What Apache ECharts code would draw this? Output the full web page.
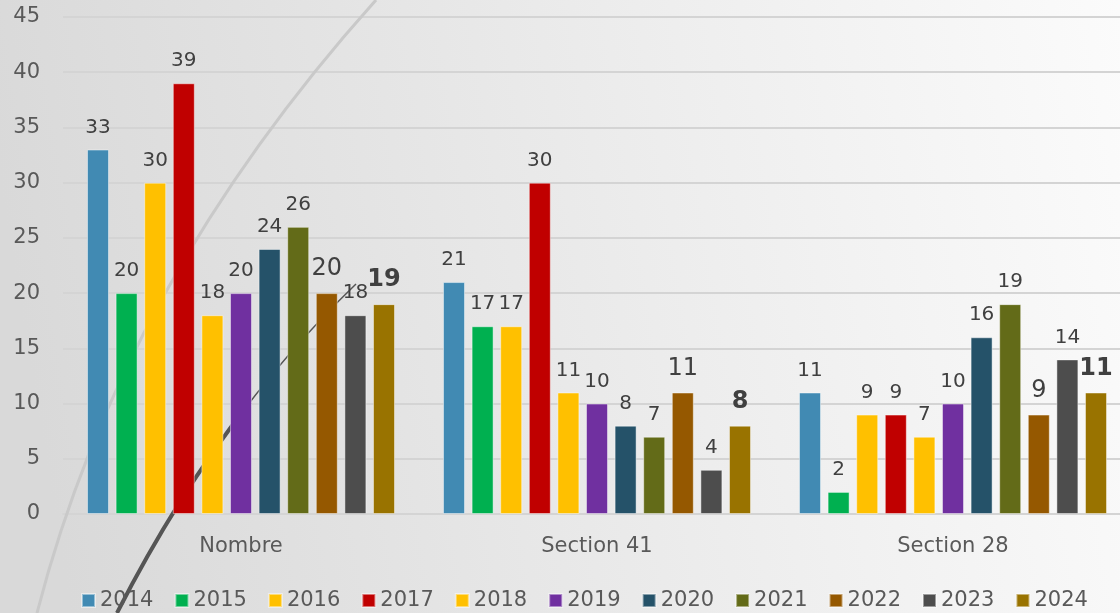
<!DOCTYPE html>
<html>
<head>
<meta charset="utf-8">
<script src="https://cdn.jsdelivr.net/npm/echarts@6/dist/echarts.min.js"></script>
<style>
  html, body { margin: 0; padding: 0; }
  #chart { width: 1120px; height: 613px; }
</style>
</head>
<body>
<div id="chart"></div>
<script>
// données
const categories = ['Nombre', 'Section 41', 'Section 28'];
const years = ['2014', '2015', '2016', '2017', '2018', '2019', '2020', '2021', '2022', '2023', '2024'];
const v2014 = [33, 21, 11];
const v2015 = [20, 17, 2];
const v2016 = [30, 17, 9];
const v2017 = [39, 30, 9];
const v2018 = [18, 11, 7];
const v2019 = [20, 10, 10];
const v2020 = [24, 8, 16];
const v2021 = [26, 7, 19];
const v2022 = [20, 11, 9];
const v2023 = [18, 4, 14];
const v2024 = [19, 8, 11];
const yTicks = [0, 5, 10, 15, 20, 25, 30, 35, 40, 45];

const values = [v2014, v2015, v2016, v2017, v2018, v2019, v2020, v2021, v2022, v2023, v2024];
const colors = ['#418AB3', '#00B050', '#FFC000', '#C00000', '#FFC000', '#7030A0',
  '#255269', '#636B18', '#955800', '#4D4D4D', '#997300'];

const font = 'DejaVu Sans';
const chart = echarts.init(document.getElementById('chart'));

const series = years.map((y, i) => {
  const label = {
    show: true,
    position: 'top',
    distance: 12,
    color: '#404040',
    fontFamily: font,
    fontSize: 20
  };
  if (y === '2022') label.fontSize = 24;
  if (y === '2024') { label.fontSize = 24; label.fontWeight = 'bold'; }
  return {
    name: y,
    type: 'bar',
    data: values[i],
    barWidth: 22,
    barGap: '30%',
    itemStyle: { color: colors[i], borderColor: 'rgba(255,255,255,0.45)', borderWidth: 1 },
    label: label,
    z: 5
  };
});

const option = {
  backgroundColor: {
    type: 'linear', x: 0, y: 0.3, x2: 1, y2: 0,
    colorStops: [
      { offset: 0, color: '#d9d9d9' },
      { offset: 0.55, color: '#ececec' },
      { offset: 1, color: '#fbfbfb' }
    ]
  },
  animation: false,
  grid: { left: 63, top: 17, bottom: 99, width: 1068, outerBoundsMode: 'none' },
  legend: {
    data: years,
    left: 76,
    top: 585,
    icon: 'rect',
    itemWidth: 13,
    itemHeight: 13,
    itemGap: 21,
    textStyle: { color: '#595959', fontFamily: font, fontSize: 21 }
  },
  xAxis: {
    type: 'category',
    data: categories,
    axisTick: { show: false },
    axisLine: { lineStyle: { color: '#d4d4d4', width: 2 } },
    axisLabel: { color: '#595959', fontFamily: font, fontSize: 21, margin: 22 }
  },
  yAxis: {
    type: 'value',
    min: yTicks[0],
    max: yTicks[yTicks.length - 1],
    interval: 5,
    axisLine: { show: false },
    axisTick: { show: false },
    splitLine: { lineStyle: { color: '#d4d4d4', width: 2 } },
    axisLabel: { color: '#595959', fontFamily: font, fontSize: 21, margin: 23 }
  },
  graphic: [
    {
      type: 'bezierCurve', z: 1, silent: true,
      shape: { x1: 37, y1: 613, cpx1: 122, cpy1: 283, x2: 376, y2: 0 },
      style: { stroke: '#c9c9c9', lineWidth: 3, fill: null }
    },
    {
      type: 'bezierCurve', z: 1, silent: true,
      shape: { x1: 117, y1: 613, cpx1: 215, cpy1: 420, x2: 356, y2: 284 },
      style: { stroke: '#555555', lineWidth: 1.5, fill: null }
    },
    {
      type: 'bezierCurve', z: 1, silent: true,
      shape: { x1: 117, y1: 613, cpx1: 176, cpy1: 497, x2: 250, y2: 402 },
      style: { stroke: '#555555', lineWidth: 4, fill: null }
    }
  ],
  series: series
};

chart.setOption(option);
</script>
</body>
</html>
